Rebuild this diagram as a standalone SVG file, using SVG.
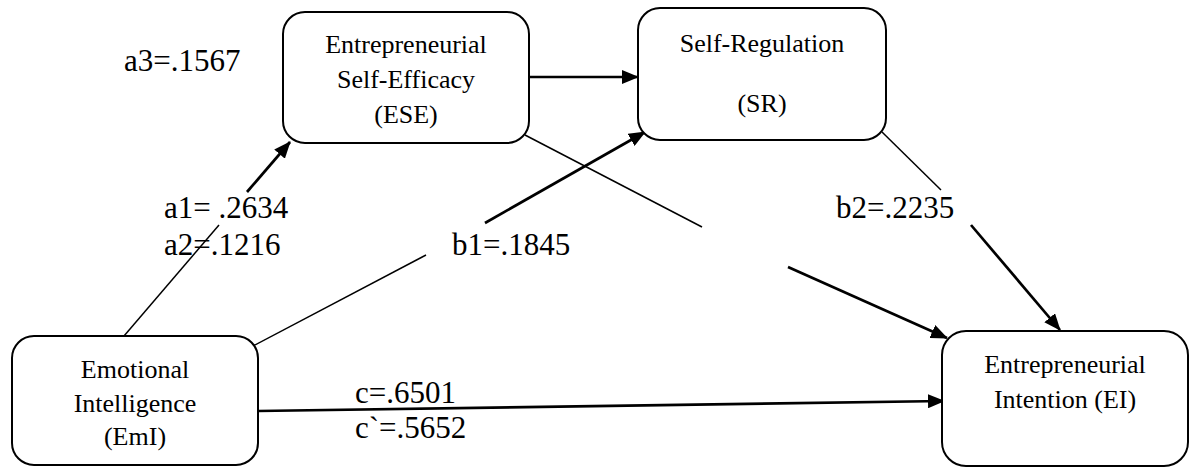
<svg xmlns="http://www.w3.org/2000/svg" width="1190" height="467" viewBox="0 0 1190 467">
<style>
.box{fill:#fff;stroke:#000;stroke-width:2}
.nt{font-size:26px;fill:#000;text-anchor:middle}
.lb{font-size:31px;fill:#000}
.thin{stroke:#000;stroke-width:1.5;fill:none}
.thick{stroke:#000;stroke-width:2.7;fill:none}
.arr{marker-end:url(#ah)}
</style>
<defs>
<marker id="ah" markerUnits="userSpaceOnUse" markerWidth="17" markerHeight="14" refX="16" refY="7" orient="auto">
<path d="M0,0 L17,7 L0,14 Z" fill="#000"/>
</marker>
</defs>
<rect width="1190" height="467" fill="#fff"/>
<g id="connectors">
<line class="thick arr" x1="529" y1="77" x2="638" y2="77"/>
<line class="thin" x1="124" y1="336" x2="219" y2="225"/>
<line class="thick arr" x1="247" y1="192" x2="290" y2="142"/>
<line class="thin" x1="253" y1="346" x2="426" y2="255"/>
<line class="thick arr" x1="485" y1="223" x2="645" y2="132"/>
<line class="thin" x1="525" y1="135" x2="702" y2="227"/>
<line class="thick arr" x1="788" y1="267" x2="947" y2="338"/>
<line class="thin" x1="882" y1="132" x2="941" y2="190"/>
<line class="thick arr" x1="971" y1="225" x2="1060" y2="330"/>
<line class="thick arr" x1="258" y1="411" x2="944" y2="401"/>
</g>
<g font-family="Liberation Serif, Times New Roman, Times, DejaVu Serif, serif">
<g id="node-ese">
<rect class="box" x="283" y="12" width="246" height="131" rx="22"/>
<text class="nt" x="406" y="53">Entrepreneurial</text>
<text class="nt" x="406" y="88">Self-Efficacy</text>
<text class="nt" x="406" y="123">(ESE)</text>
</g>
<g id="node-sr">
<rect class="box" x="638" y="8" width="248" height="132" rx="22"/>
<text class="nt" x="762" y="52">Self-Regulation</text>
<text class="nt" x="762" y="112">(SR)</text>
</g>
<g id="node-emi">
<rect class="box" x="12" y="336" width="246" height="129" rx="22"/>
<text class="nt" x="135" y="378">Emotional</text>
<text class="nt" x="135" y="412">Intelligence</text>
<text class="nt" x="135" y="445">(EmI)</text>
</g>
<g id="node-ei">
<rect class="box" x="942" y="331" width="246" height="135" rx="24"/>
<text class="nt" x="1065" y="373">Entrepreneurial</text>
<text class="nt" x="1065" y="408">Intention (EI)</text>
</g>
<g id="labels">
<text class="lb" x="124" y="71">a3=.1567</text>
<text class="lb" x="164" y="218">a1= .2634</text>
<text class="lb" x="164" y="255">a2=.1216</text>
<text class="lb" x="452" y="255">b1=.1845</text>
<text class="lb" x="836" y="218">b2=.2235</text>
<text class="lb" x="355" y="403">c=.6501</text>
<text class="lb" x="355" y="438">c`=.5652</text>
</g>
</g>
</svg>
